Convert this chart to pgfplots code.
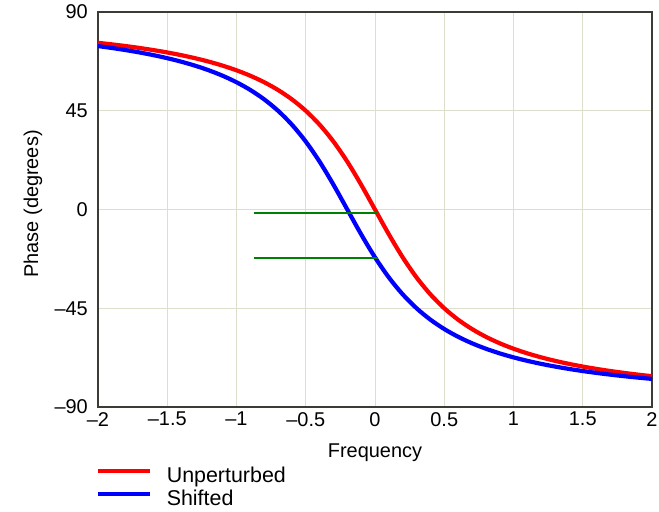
\documentclass[border=0pt]{standalone}
\usepackage{fontspec}
\setmainfont{Liberation Sans}
\usepackage{pgfplots}
\pgfplotsset{compat=1.18}
\definecolor{gridc}{RGB}{222,222,205}
\definecolor{axc}{RGB}{60,60,52}
\definecolor{gr}{RGB}{0,128,0}
\begin{document}
\begin{tikzpicture}
\path[use as bounding box] (-98bp,-105bp) rectangle (561bp,407bp);
\begin{axis}[
  at={(0,0)}, anchor=south west,
  scale only axis, width=554bp, height=395bp,
  xmin=-2, xmax=2, ymin=-90, ymax=90,
  axis line style={axc, line width=1.3bp},
  grid=major, major grid style={gridc, line width=1bp},
  major tick length=0pt,
  xtick={-2,-1.5,-1,-0.5,0,0.5,1,1.5,2},
  xticklabels={–2,–1.5,–1,–0.5,0,0.5,1,1.5,2},
  ytick={-90,-45,0,45,90},
  yticklabels={–90,–45,0,45,90},
  tick label style={font=\fontsize{20}{24}\selectfont, text=black},
  xticklabel style={anchor=north, inner sep=0pt, yshift=-5bp},
  yticklabel style={anchor=east, inner sep=0pt, xshift=-10bp},
  xlabel={Frequency}, ylabel={Phase (degrees)},
  label style={font=\fontsize{20}{24}\selectfont},
  xlabel style={at={(axis description cs:0.5,-0.1165)}, anchor=center},
  ylabel style={at={(axis description cs:-0.1173,0.514)}, anchor=center},
  legend style={at={(axis description cs:0,0)}, anchor=north west, draw=none, fill=none,
    xshift=-5bp, yshift=-57bp, font=\fontsize{21.5}{24}\selectfont,
    nodes={inner sep=0.5bp, text height=16bp, text depth=6bp}, row sep=0pt,
    cells={anchor=west}},
  legend image code/.code={\draw[#1, line width=4bp] (0bp,7bp) -- (52bp,7bp); \path (66bp,7bp);},
]
\addplot[red, line width=4.2bp, smooth] coordinates {
(-2.0,75.964)(-1.9,75.256)(-1.8,74.476)(-1.7,73.610)(-1.6,72.646)(-1.5,71.565)
(-1.4,70.346)(-1.3,68.962)(-1.2,67.380)(-1.1,65.556)(-1.0,63.435)(-0.9,60.945)
(-0.8,57.995)(-0.7,54.462)(-0.6,50.194)(-0.5,45.000)(-0.4,38.660)(-0.3,30.964)
(-0.2,21.801)(-0.1,11.310)(0,0)
(0.1,-11.310)(0.2,-21.801)(0.3,-30.964)(0.4,-38.660)(0.5,-45.000)(0.6,-50.194)
(0.7,-54.462)(0.8,-57.995)(0.9,-60.945)(1.0,-63.435)(1.1,-65.556)(1.2,-67.380)
(1.3,-68.962)(1.4,-70.346)(1.5,-71.565)(1.6,-72.646)(1.7,-73.610)(1.8,-74.476)
(1.9,-75.256)(2.0,-75.964)};
\addlegendentry{Unperturbed}
\addplot[blue, line width=4.2bp, smooth] coordinates {
(-2.0,74.476)(-1.9,73.610)(-1.8,72.646)(-1.7,71.565)(-1.6,70.346)(-1.5,68.962)
(-1.4,67.380)(-1.3,65.556)(-1.2,63.435)(-1.1,60.945)(-1.0,57.995)(-0.9,54.462)
(-0.8,50.194)(-0.7,45.000)(-0.6,38.660)(-0.5,30.964)(-0.4,21.801)(-0.3,11.310)
(-0.2,0)(-0.1,-11.310)(0,-21.801)(0.1,-30.964)(0.2,-38.660)(0.3,-45.000)
(0.4,-50.194)(0.5,-54.462)(0.6,-57.995)(0.7,-60.945)(0.8,-63.435)(0.9,-65.556)
(1.0,-67.380)(1.1,-68.962)(1.2,-70.346)(1.3,-71.565)(1.4,-72.646)(1.5,-73.610)
(1.6,-74.476)(1.7,-75.256)(1.8,-75.964)(1.9,-76.608)(2.0,-77.196)};
\addlegendentry{Shifted}
\addplot[gr, line width=2.8bp, forget plot] coordinates {(-0.874,-1.6)(0.02,-1.6)};
\addplot[gr, line width=2.8bp, forget plot] coordinates {(-0.874,-22.1)(0.02,-22.1)};
\end{axis}
\end{tikzpicture}
\end{document}
